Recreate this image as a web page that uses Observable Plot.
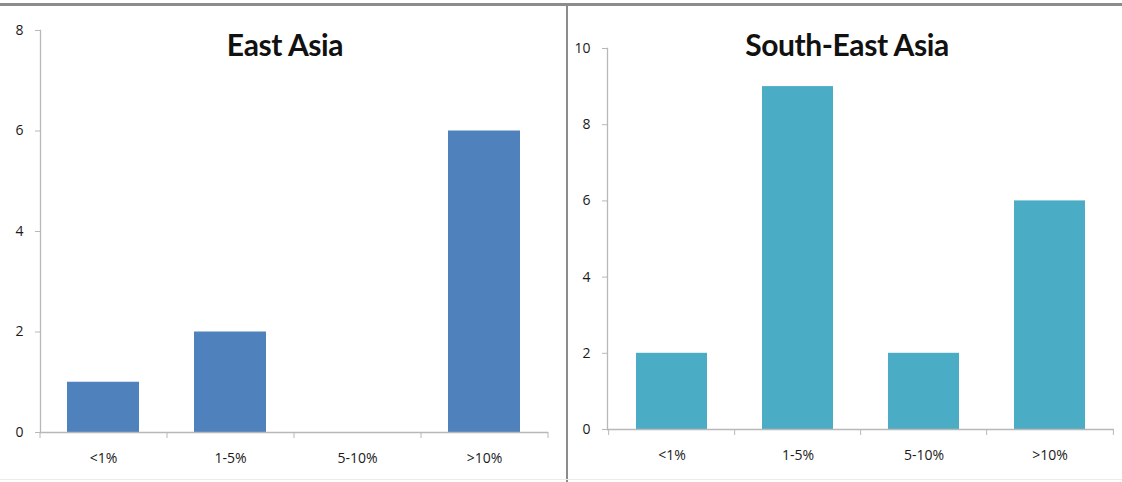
<!DOCTYPE html>
<html>
<head>
<meta charset="utf-8">
<script src="https://cdn.jsdelivr.net/npm/d3@7"></script>
<script src="https://cdn.jsdelivr.net/npm/@observablehq/plot@0.6"></script>
<style>
  html, body { margin: 0; padding: 0; background: #fff; }
  #wrap { position: relative; width: 1122px; height: 482px; overflow: hidden; font-family: Lato, "Open Sans", sans-serif; }
  .panel { position: absolute; top: 0; }
  .title { position: absolute; top: 29px; line-height: 30px; font-weight: bold; font-size: 30px; color: #111; text-align: center; transform: translateX(-50%); white-space: nowrap; font-family: Lato, "Open Sans", sans-serif; letter-spacing: -0.4px; }
  #topline { position: absolute; left: 0; top: 3px; width: 1122px; height: 3px; background: #8c8c8c; }
  #divider { position: absolute; left: 566px; top: 4px; width: 2px; height: 478px; background: #8c8c8c; }
  #bottomline { position: absolute; left: 0; top: 479px; width: 1122px; height: 1px; background: #ececec; }
</style>
</head>
<body>
<div id="wrap">
  <div id="left" class="panel" style="left:0px"></div>
  <div id="right" class="panel" style="left:567px"></div>
  <div id="t1" class="title" style="left:285px">East Asia</div>
  <div id="t2" class="title" style="left:847px">South-East Asia</div>
  <div id="topline"></div>
  <div id="divider"></div>
  <div id="bottomline"></div>
</div>
<script>
const categories = ["<1%", "1-5%", "5-10%", ">10%"];
const eastAsiaValues = [1, 2, 0, 6];
const southEastAsiaValues = [2, 9, 2, 6];
const eastAsiaTicks = [0, 2, 4, 6, 8];
const southEastAsiaTicks = [0, 2, 4, 6, 8, 10];

const axisColor = "#b8b8b8";
const textColor = "#1a1a1a";

function panel(values, ticks, color, opts) {
  const data = categories.map((c, i) => ({category: c, value: values[i]}));
  const n = categories.length;
  const step = (opts.width - opts.marginLeft - opts.marginRight) / n;
  return Plot.plot({
    width: opts.width,
    height: opts.height,
    marginLeft: opts.marginLeft,
    marginRight: opts.marginRight,
    marginTop: opts.marginTop,
    marginBottom: opts.marginBottom,
    style: {fontFamily: "'Open Sans', 'DejaVu Sans', sans-serif", fontSize: "14px", color: textColor, background: "transparent"},
    x: {domain: categories, paddingInner: 0.433, paddingOuter: 0.2165, label: null, axis: null},
    y: {domain: [ticks[0], ticks[ticks.length - 1]], label: null, axis: null},
    marks: [
      Plot.barY(data, {x: "category", y: "value", fill: color}),
      Plot.frame({anchor: "left", stroke: axisColor, strokeWidth: 1.3}),
      Plot.ruleY([0], {stroke: axisColor, strokeWidth: 1.3}),
      Plot.axisY({ticks: ticks, tickSize: 5, tickPadding: 12, stroke: axisColor, fill: textColor, label: null, fontSize: 14}),
      Plot.axisX({ticks: categories, tickSize: 0, tickPadding: 21, fill: textColor, label: null, fontSize: 14}),
      Plot.axisX({ticks: categories, tickSize: 6, tickFormat: () => "", stroke: axisColor, label: null, dx: -step / 2}),
      Plot.axisX({ticks: [categories[n - 1]], tickSize: 6, tickFormat: () => "", stroke: axisColor, label: null, dx: step / 2})
    ]
  });
}

document.getElementById("left").append(
  panel(eastAsiaValues, eastAsiaTicks, "#4f81bd", {width: 567, height: 482, marginLeft: 40, marginRight: 19, marginTop: 30, marginBottom: 50})
);
document.getElementById("right").append(
  panel(southEastAsiaValues, southEastAsiaTicks, "#4bacc6", {width: 555, height: 482, marginLeft: 40, marginRight: 8, marginTop: 48, marginBottom: 53})
);
</script>
</body>
</html>
